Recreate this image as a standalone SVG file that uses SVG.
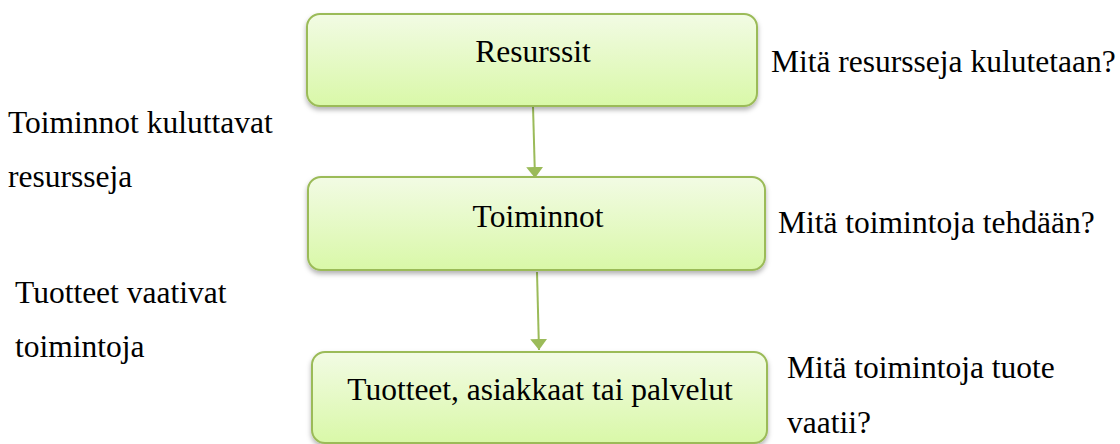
<svg xmlns="http://www.w3.org/2000/svg" width="1120" height="444" viewBox="0 0 1120 444">
<style>
.box{fill:url(#g);stroke:#9bbb59;stroke-width:2;filter:url(#sh)}
.lbl{font-family:"Liberation Serif","Times New Roman",serif;font-size:31.5px;fill:#000}
.mid{text-anchor:middle}
.con{stroke:#9bbb59;stroke-width:2;fill:none;marker-end:url(#ah)}
</style>
<defs>
<linearGradient id="g" x1="0" y1="0" x2="0" y2="1">
<stop offset="0" stop-color="#f2fbe4"/>
<stop offset="1" stop-color="#d9f8a8"/>
</linearGradient>
<filter id="sh" x="-10%" y="-20%" width="120%" height="150%">
<feDropShadow dx="0" dy="3" stdDeviation="2.5" flood-color="#000" flood-opacity="0.3"/>
</filter>
<marker id="ah" markerWidth="11" markerHeight="17" refX="11" refY="8.5" orient="auto" markerUnits="userSpaceOnUse">
<path d="M0,0 L11,8.5 L0,17 Z" fill="#9bbb59"/>
</marker>
</defs>
<rect width="1120" height="444" fill="#fff"/>
<g id="connectors">
<line class="con" x1="533" y1="106" x2="535" y2="178"/>
<line class="con" x1="537" y1="272" x2="539" y2="350"/>
</g>
<g id="resurssit">
<rect class="box" x="307" y="14" width="450" height="92" rx="13"/>
<text class="lbl mid" x="533" y="62">Resurssit</text>
</g>
<g id="toiminnot">
<rect class="box" x="308" y="177" width="457" height="93" rx="13"/>
<text class="lbl mid" x="538" y="227">Toiminnot</text>
</g>
<g id="tuotteet">
<rect class="box" x="312" y="352" width="455" height="91" rx="13"/>
<text class="lbl mid" x="540" y="400">Tuotteet, asiakkaat tai palvelut</text>
</g>
<g id="side-texts">
<text class="lbl" x="771" y="72">Mitä resursseja kulutetaan?</text>
<text class="lbl" x="778" y="233">Mitä toimintoja tehdään?</text>
<text class="lbl" x="787" y="378">Mitä toimintoja tuote</text>
<text class="lbl" x="787" y="433">vaatii?</text>
<text class="lbl" x="8" y="133">Toiminnot kuluttavat</text>
<text class="lbl" x="8" y="187">resursseja</text>
<text class="lbl" x="15" y="303">Tuotteet vaativat</text>
<text class="lbl" x="15" y="357">toimintoja</text>
</g>
</svg>
